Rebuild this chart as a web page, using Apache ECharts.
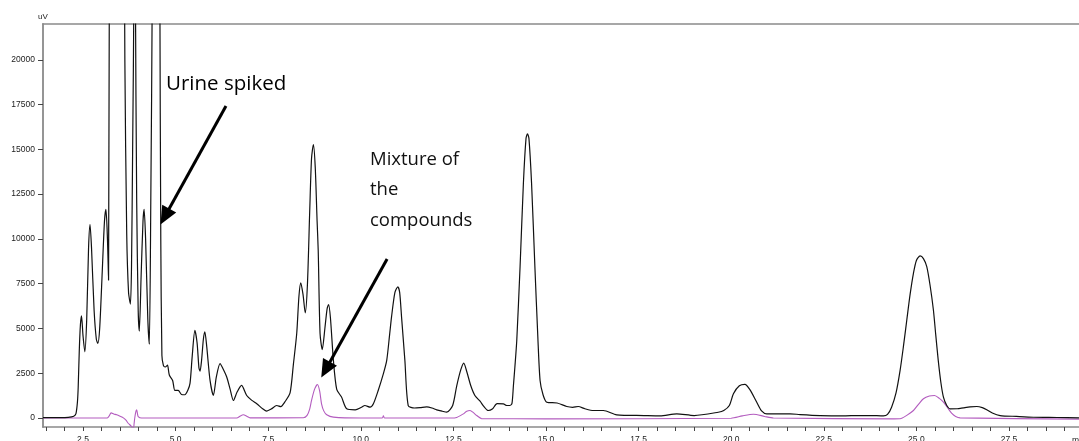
<!DOCTYPE html>
<html>
<head>
<meta charset="utf-8">
<script src="https://cdn.jsdelivr.net/npm/echarts@6/dist/echarts.min.js"></script>
<style>
  html, body { margin: 0; padding: 0; background: #fff; }
  #chart { width: 1079px; height: 441px; }
</style>
</head>
<body>
<div id="chart"></div>
<script>
// Retention time (min) and detector signal (uV) of the spiked urine run
const urineTime = [
  1.42, 1.80, 2.10, 2.25, 2.31, 2.35, 2.37, 2.40, 2.43, 2.46, 2.50, 2.55, 2.60, 2.65, 2.69, 2.73, 2.80, 2.86, 2.90, 2.95,
  3.02, 3.08, 3.12, 3.16, 3.19, 3.24, 3.40, 3.57, 3.63, 3.68, 3.73, 3.78, 3.81, 3.84, 3.875, 3.895, 3.915, 3.95, 3.99, 4.02,
  4.07, 4.12, 4.15, 4.19, 4.25, 4.29, 4.33, 4.37, 4.40, 4.55, 4.575, 4.60, 4.63, 4.67, 4.72, 4.78, 4.83, 4.92, 4.98, 5.07,
  5.16, 5.25, 5.33, 5.39, 5.45, 5.52, 5.58, 5.63, 5.66, 5.70, 5.75, 5.79, 5.84, 5.93, 6.02, 6.10, 6.20, 6.28, 6.38, 6.47,
  6.56, 6.66, 6.78, 6.92, 7.05, 7.20, 7.35, 7.46, 7.58, 7.73, 7.84, 7.95, 8.09, 8.18, 8.27, 8.33, 8.38, 8.44, 8.50, 8.56,
  8.62, 8.67, 8.72, 8.77, 8.82, 8.85, 8.90, 8.96, 9.03, 9.09, 9.13, 9.18, 9.26, 9.35, 9.48, 9.62, 9.85, 10.02, 10.11, 10.25,
  10.34, 10.47, 10.61, 10.70, 10.78, 10.83, 10.92, 11.00, 11.05, 11.10, 11.19, 11.28, 11.45, 11.60, 11.78, 11.92, 12.05, 12.20, 12.32, 12.48,
  12.59, 12.70, 12.78, 12.86, 12.97, 13.08, 13.22, 13.32, 13.44, 13.55, 13.68, 13.85, 13.94, 14.02, 14.08, 14.12, 14.16, 14.21, 14.30, 14.39,
  14.46, 14.50, 14.54, 14.61, 14.70, 14.78, 14.84, 14.92, 15.02, 15.30, 15.56, 15.72, 15.87, 16.05, 16.28, 16.55, 16.91, 17.65, 18.08, 18.53,
  19.00, 19.65, 19.80, 19.95, 20.06, 20.22, 20.37, 20.50, 20.69, 20.82, 20.96, 21.59, 21.86, 22.40, 23.00, 23.48, 23.75, 24.11, 24.22, 24.33,
  24.45, 24.56, 24.65, 24.74, 24.83, 24.92, 25.00, 25.10, 25.19, 25.28, 25.37, 25.46, 25.52, 25.59, 25.66, 25.73, 25.82, 25.91, 26.10, 26.27,
  26.45, 26.63, 26.78, 26.90, 27.05, 27.26, 27.70, 28.16, 28.80, 29.39
];
const urineSignal = [
  20, 25, 40, 100, 250, 900, 1700, 3800, 5200, 5700, 4600, 3700, 5500, 9500, 10800, 9500, 6000, 4400, 4170, 5000,
  8200, 11000, 11650, 10000, 7700, 45000, 80000, 45000, 20000, 10300, 7000, 6360, 8500, 15000, 24000, 50000, 24000, 12000, 6000, 4850,
  8000, 11000, 11650, 10000, 5500, 4120, 12000, 24000, 50000, 50000, 24000, 10000, 3500, 2940, 2850, 2950, 2400, 2100, 1540, 1540,
  1315, 1300, 1550, 1950, 3500, 4900, 4200, 2800, 2620, 3200, 4400, 4810, 4000, 2100, 1260, 2300, 3040, 2750, 2290, 1630,
  980, 1450, 1820, 1260, 1000, 780, 520, 390, 500, 700, 640, 900, 1400, 3000, 4720, 6800, 7550, 6900, 5870, 7500,
  11500, 14500, 15270, 14000, 11000, 9380, 4720, 3820, 5000, 6100, 6340, 5600, 3220, 1600, 1170, 515, 460, 605, 700, 605,
  795, 1540, 2480, 3220, 4700, 5650, 7000, 7330, 7000, 5650, 3220, 700, 560, 580, 620, 560, 460, 380, 325, 700,
  1800, 2700, 3070, 2600, 1800, 1260, 940, 650, 420, 500, 800, 795, 700, 700, 800, 1800, 2850, 4300, 8450, 13120,
  15600, 15870, 15600, 13120, 8450, 4500, 2100, 1300, 885, 840, 645, 600, 645, 520, 420, 420, 180, 140, 120, 235,
  140, 325, 420, 700, 1355, 1800, 1880, 1600, 885, 400, 235, 235, 195, 140, 120, 140, 140, 120, 200, 605,
  1400, 2660, 4000, 5460, 6900, 8080, 8800, 9050, 8900, 8450, 7400, 6020, 4700, 3220, 2000, 1170, 700, 515, 520, 570,
  620, 645, 580, 460, 280, 140, 90, 45, 30, 10
];

// Retention time (min) and detector signal (uV) of the compound mixture run
const mixTime = [
  1.42, 3.15, 3.20, 3.26, 3.33, 3.41, 3.50, 3.59, 3.66, 3.72, 3.80, 3.86, 3.88, 3.90, 3.93, 3.95, 3.97, 3.99, 4.08, 6.65,
  6.75, 6.83, 6.92, 7.01, 8.45, 8.55, 8.62, 8.67, 8.75, 8.83, 8.89, 8.94, 9.00, 9.08, 9.26, 10.00, 10.58, 10.61, 10.64, 12.45,
  12.59, 12.70, 12.77, 12.86, 12.95, 13.04, 13.13, 13.26, 15.00, 20.00, 20.30, 20.60, 20.90, 21.14, 24.40, 24.56, 24.74, 24.92, 25.05, 25.19,
  25.35, 25.49, 25.62, 25.73, 25.85, 25.95, 26.06, 26.18, 29.39
];
const mixSignal = [
  0, 0, 100, 290, 230, 180, 100, 10, -120, -290, -450, -605, -300, 45, 380, 460, 250, 85, 0, 0,
  120, 180, 100, 10, 20, 150, 500, 980, 1600, 1870, 1500, 795, 400, 180, 50, 0, 0, 120, 0, 0,
  30, 150, 235, 380, 420, 300, 140, -30, -45, -10, 120, 215, 90, 0, -45, -40, 150, 420, 750, 1075,
  1230, 1260, 1100, 885, 550, 270, 90, 10, -60
];

// Axis ticks and labels
const timeLabels = [2.5, 5.0, 7.5, 10.0, 12.5, 15.0, 17.5, 20.0, 22.5, 25.0, 27.5];
const timeTicks = [];
for (let t = 1.5; t <= 29.0 + 1e-9; t += 0.5) timeTicks.push(+t.toFixed(1));
const signalLabels = [0, 2500, 5000, 7500, 10000, 12500, 15000, 17500, 20000];
const signalTicks = [];
for (let v = -500; v <= 22000; v += 500) signalTicks.push(v);

// Arrow annotations: tail and head-centre in (min, uV)
const urineArrow = [[6.36, 17420], [4.71, 11250]];
const mixArrow = [[10.71, 8880], [9.05, 2700]];

const zip = (xs, ys) => xs.map((x, i) => [x, ys[i]]);

const T_MIN = 1.42, T_MAX = 29.39;
const axisGray = '#8a8a8a';
const tickFont = { fontFamily: 'Liberation Sans, Arial, sans-serif', fontSize: 8.5, color: '#222' };

const arrowStyle = (pts) => ({
  silent: true,
  symbol: ['none', 'triangle'],
  symbolSize: [16, 18],
  lineStyle: { color: '#000', width: 3, type: 'solid' },
  label: { show: false },
  emphasis: { disabled: true },
  data: [[{ coord: pts[0] }, { coord: pts[1] }]]
});

const chart = echarts.init(document.getElementById('chart'), null, { renderer: 'canvas' });
chart.setOption({
  animation: false,
  backgroundColor: '#fff',
  grid: { left: 43, right: 0, top: 24, bottom: 14, containLabel: false, outerBoundsMode: 'none' },
  xAxis: [
    {
      type: 'value', min: T_MIN, max: T_MAX,
      name: 'min', nameLocation: 'end', nameGap: -7,
      nameTextStyle: { fontFamily: tickFont.fontFamily, fontSize: 8.5, color: '#222', align: 'left', verticalAlign: 'top', padding: [9, 0, 0, 0] },
      axisLine: { show: true, onZero: false, lineStyle: { color: axisGray, width: 1.6 } },
      axisTick: { show: true, customValues: timeTicks, length: 4, lineStyle: { color: '#444', width: 1 } },
      axisLabel: { show: true, customValues: timeLabels, margin: 8, formatter: v => v.toFixed(1), ...tickFont },
      splitLine: { show: false }
    },
    {
      type: 'value', position: 'top', min: T_MIN, max: T_MAX,
      axisLine: { show: true, onZero: false, lineStyle: { color: axisGray, width: 1.6 } },
      axisTick: { show: false }, axisLabel: { show: false }, splitLine: { show: false }
    }
  ],
  yAxis: [
    {
      type: 'value', min: -500, max: 22000,
      name: 'uV', nameLocation: 'end', nameGap: 3,
      nameTextStyle: { fontFamily: tickFont.fontFamily, fontSize: 8, color: '#222', align: 'center' },
      axisLine: { show: true, onZero: false, lineStyle: { color: axisGray, width: 1.8 } },
      axisTick: { show: true, customValues: signalLabels, length: 5, lineStyle: { color: '#444', width: 1 } },
      axisLabel: { show: true, customValues: signalLabels, margin: 8, formatter: v => String(v), ...tickFont },
      splitLine: { show: false }
    },
    {
      type: 'value', min: -500, max: 22000,
      axisLine: { show: false },
      axisTick: { show: true, customValues: signalTicks, length: 3, lineStyle: { color: '#444', width: 1 } },
      axisLabel: { show: false }, splitLine: { show: false }
    }
  ],
  series: [
    {
      name: 'Urine spiked', type: 'line', xAxisIndex: 0, yAxisIndex: 0,
      data: zip(urineTime, urineSignal),
      showSymbol: false, smooth: 0.25, clip: true,
      lineStyle: { color: '#111', width: 1.2 },
      z: 3,
      markLine: arrowStyle(urineArrow)
    },
    {
      name: 'Mixture of the compounds', type: 'line', xAxisIndex: 0, yAxisIndex: 0,
      data: zip(mixTime, mixSignal),
      showSymbol: false, smooth: 0.25, clip: true,
      lineStyle: { color: '#b35cbf', width: 1.1 },
      z: 2,
      markLine: arrowStyle(mixArrow)
    }
  ],
  graphic: [
    {
      type: 'text', left: 166, top: 74,
      style: { text: 'Urine spiked', font: '20.5px "Open Sans", sans-serif', fill: '#000' }
    },
    {
      type: 'text', left: 370, top: 144,
      style: { text: 'Mixture of\nthe\ncompounds', font: '18.5px "Open Sans", sans-serif', lineHeight: 30.5, fill: '#111' }
    }
  ]
});
</script>
</body>
</html>
